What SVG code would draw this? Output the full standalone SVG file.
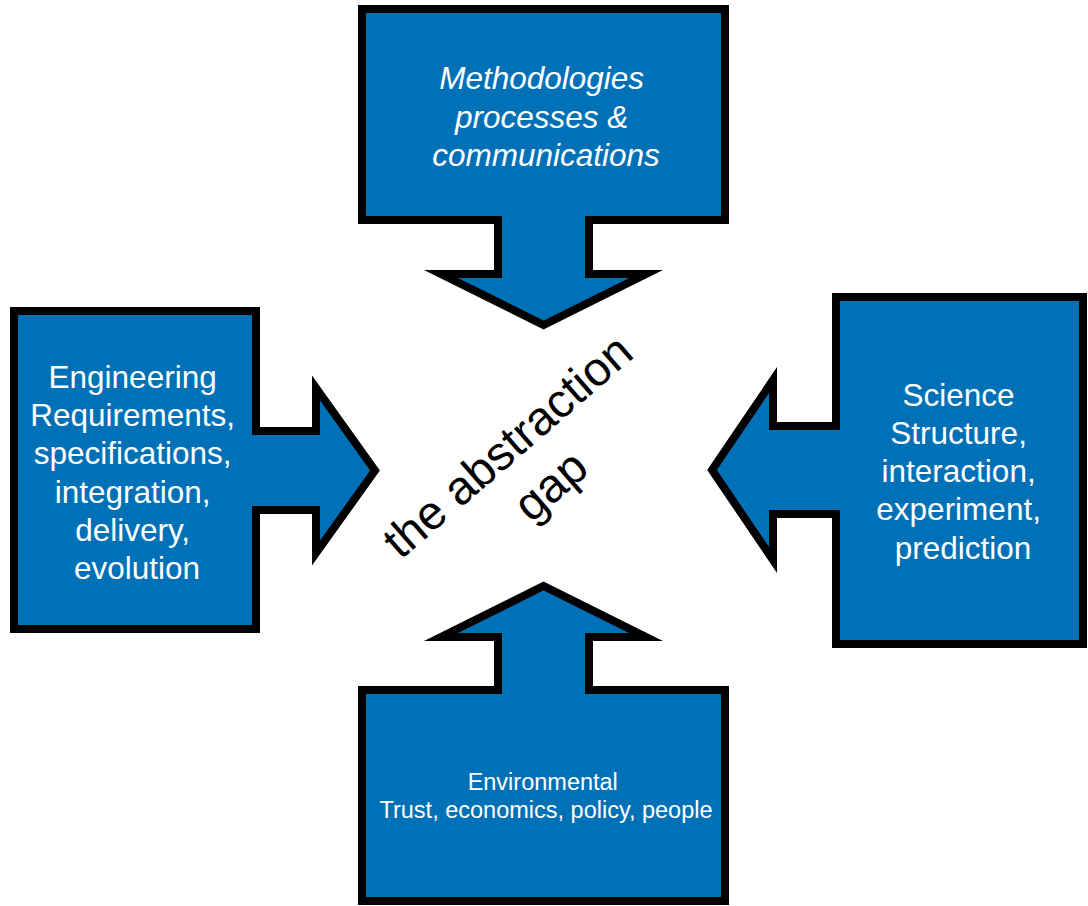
<svg xmlns="http://www.w3.org/2000/svg" width="1088" height="906" viewBox="0 0 1088 906">
  <style>
    .block { fill: #0071B6; stroke: #000000; stroke-width: 8; stroke-linejoin: miter; stroke-miterlimit: 10; }
    .label { fill: #FFFFFF; font-family: "Liberation Sans", Arial, sans-serif; text-anchor: middle; }
    .gap { fill: #000000; font-family: "Liberation Sans", Arial, sans-serif; text-anchor: middle; font-size: 47.5px; text-rendering: geometricPrecision; }
  </style>
  <rect width="1088" height="906" fill="#FFFFFF"/>

  <!-- Methodologies: box with downward arrow -->
  <g id="methodologies">
    <path class="block" d="M362,9 H725 V220 H589 V274 H646 L543.5,325 L441,274 H498 V220 H362 Z"/>
    <text class="label" font-size="31.5" font-style="italic">
      <tspan x="546" y="89">Methodologies</tspan>
      <tspan x="546" y="127.5">processes &amp;</tspan>
      <tspan x="546" y="165.5">communications</tspan>
    </text>
  </g>

  <!-- Engineering: box with rightward arrow -->
  <g id="engineering">
    <path class="block" d="M14,311 H256 V431 H316 V388 L375,470.5 L316,553 V510 H256 V629 H14 Z"/>
    <text class="label" font-size="31.5">
      <tspan x="137" y="388">Engineering</tspan>
      <tspan x="137" y="426.2">Requirements,</tspan>
      <tspan x="137" y="464.4">specifications,</tspan>
      <tspan x="137" y="502.6">integration,</tspan>
      <tspan x="137" y="540.8">delivery,</tspan>
      <tspan x="137" y="579">evolution</tspan>
    </text>
  </g>

  <!-- Science: box with leftward arrow -->
  <g id="science">
    <path class="block" d="M1083,297 V644 H836 V514 H773 V560 L712,470 L773,380 V426 H836 V297 Z"/>
    <text class="label" font-size="31.5">
      <tspan x="963" y="406">Science</tspan>
      <tspan x="963" y="444">Structure,</tspan>
      <tspan x="963" y="482">interaction,</tspan>
      <tspan x="963" y="520">experiment,</tspan>
      <tspan x="963" y="558.5">prediction</tspan>
    </text>
  </g>

  <!-- Environmental: box with upward arrow -->
  <g id="environmental">
    <path class="block" d="M362,690 H498 V637 H441 L543.5,586 L646,637 H589 V690 H725 V901 H362 Z"/>
    <text class="label" font-size="23.5">
      <tspan x="546" y="790">Environmental</tspan>
      <tspan x="546" y="818">Trust, economics, policy, people</tspan>
    </text>
  </g>

  <!-- Central caption, set on a diagonal -->
  <g id="abstraction-gap">
    <text class="gap" transform="translate(523,454) rotate(-41)">
      <tspan x="0" y="0">the abstraction</tspan>
      <tspan x="0" y="58">gap</tspan>
    </text>
  </g>

  <g id="connectors"/>
</svg>
